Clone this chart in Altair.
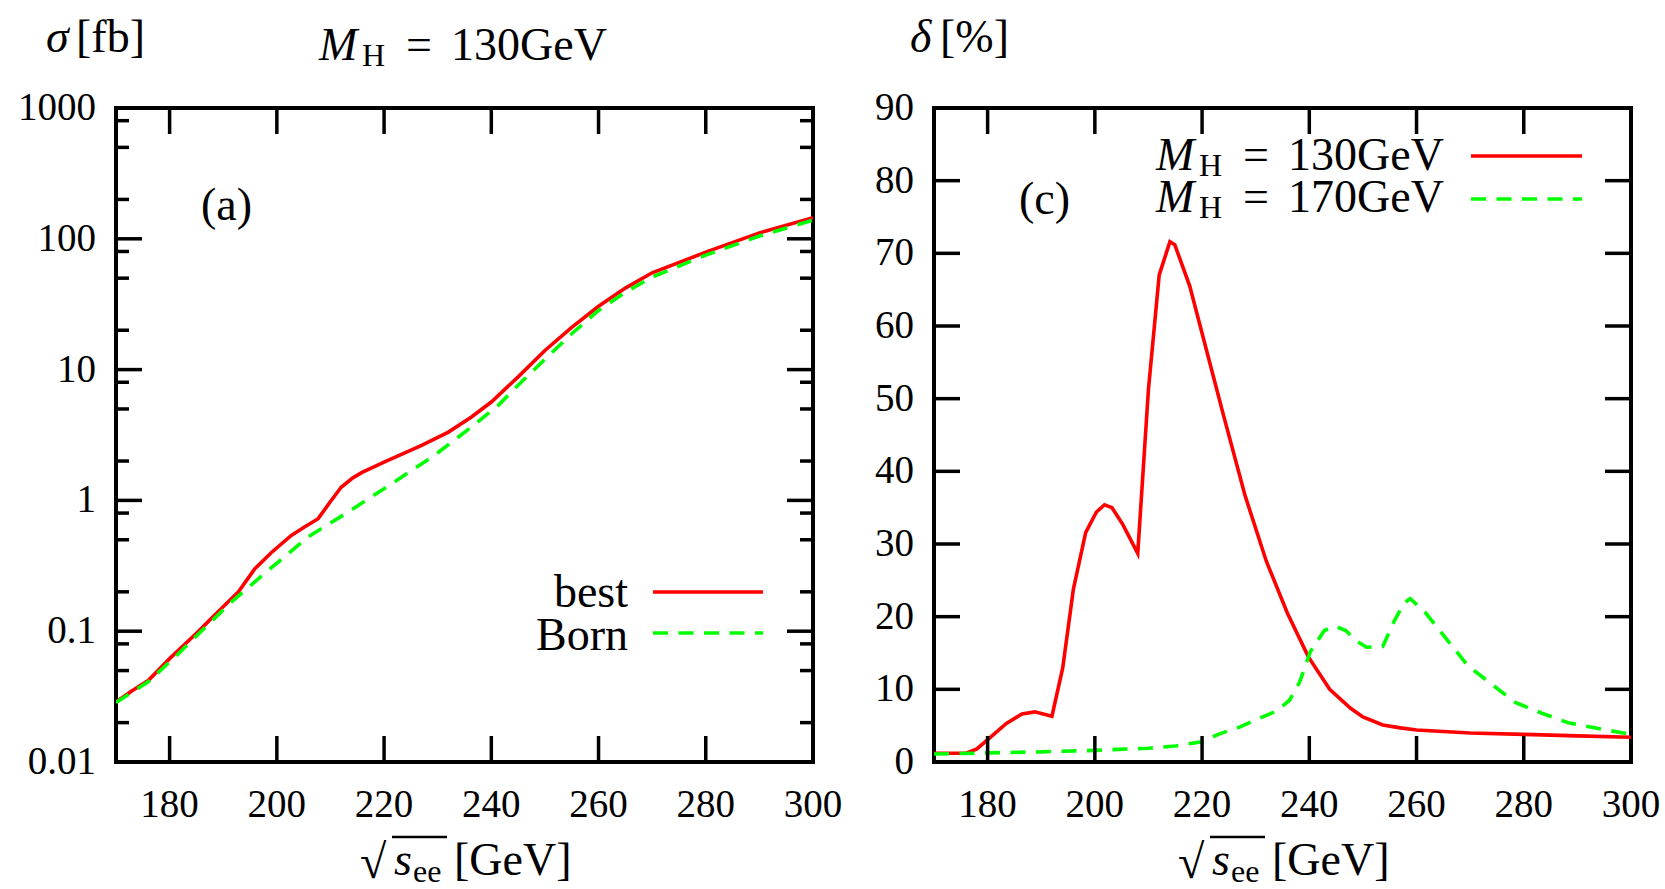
import altair as alt
import pandas as pd

# ---------------- data ----------------
# panel (a): cross section sigma [fb], M_H = 130 GeV
best_x = [170, 173, 176, 180, 185.3, 188, 191.5, 192.8, 195.9, 199, 202.7, 205, 207.7, 210, 212, 214,
          215.8, 220.1, 227, 232, 236.3, 240, 245, 250, 255, 260, 265, 270, 280, 290, 300]
best_y = [0.0288, 0.035, 0.042, 0.0617, 0.099, 0.128, 0.177, 0.199, 0.30, 0.40, 0.54, 0.62, 0.725, 0.98, 1.26, 1.47,
          1.63, 1.97, 2.63, 3.33, 4.34, 5.65, 8.8, 14, 21, 30.5, 42, 55, 79, 111, 145]
born_x = [170, 176, 181.6, 185, 191.5, 198.4, 205.8, 213.3, 221.4, 229.4, 236.3, 241.3, 245, 250, 255,
          260, 265, 270, 280, 290, 300]
born_y = [0.0285, 0.041, 0.067, 0.092, 0.167, 0.292, 0.525, 0.815, 1.34, 2.21, 3.64, 5.33, 7.6, 12, 18.8,
          28.3, 39, 51, 75, 105, 139]

# panel (c): relative correction delta [%]
d130_x = [170, 176, 178, 180.5, 183.5, 186.4, 188.8, 192, 194, 196, 198.3, 200.3, 201.8, 203.2, 205.2, 208,
          210, 212, 214, 214.9, 217.7, 220, 224, 228, 232, 235.9, 239.8, 243.8, 247.7, 250, 253.7, 257,
          260, 270, 280, 290, 300]
d130_y = [1.2, 1.2, 1.8, 3.4, 5.3, 6.6, 6.9, 6.3, 12.9, 23.8, 31.6, 34.4, 35.4, 35.0, 32.7, 28.7,
          51.3, 67, 71.6, 71.2, 65.5, 59, 47.7, 36.7, 27.6, 20.5, 14.5, 10, 7.4, 6.2, 5.1, 4.7,
          4.4, 4.0, 3.8, 3.6, 3.4]
d170_x = [170, 180, 190, 200, 210, 215, 220, 223, 227, 230, 233.9, 236.3, 238.2, 240.2, 242.8, 244.8,
          246.8, 248.7, 250.7, 253.7, 255.7, 257.6, 258.8, 261.6, 265.5, 269.5, 273.5, 278.4, 283.4,
          288.3, 293.2, 300]
d170_y = [1.1, 1.25, 1.4, 1.6, 1.9, 2.2, 2.8, 3.8, 4.8, 5.8, 7.0, 8.5, 11, 15.2, 18.1, 18.7,
          18.1, 16.7, 15.8, 15.9, 19.2, 21.8, 22.5, 20.6, 17, 13.3, 11, 8.2, 6.7,
          5.4, 4.7, 3.8]

# ticks and tick labels
x_label_values = [180, 200, 220, 240, 260, 280, 300]
x_label_texts = ["180", "200", "220", "240", "260", "280", "300"]
x_major_ticks = [180, 200, 220, 240, 260, 280]
sigma_label_values = [0.01, 0.1, 1, 10, 100, 1000]
sigma_label_texts = ["0.01", "0.1", "1", "10", "100", "1000"]
sigma_major_ticks = [0.1, 1, 10, 100]
sigma_minor_ticks = [0.02, 0.05, 0.08, 0.2, 0.5, 0.8, 2, 5, 8, 20, 50, 80, 200, 500, 800]
delta_label_values = [0, 10, 20, 30, 40, 50, 60, 70, 80, 90]
delta_label_texts = ["0", "10", "20", "30", "40", "50", "60", "70", "80", "90"]
delta_major_ticks = [10, 20, 30, 40, 50, 60, 70, 80]

# ---------------- style ----------------
W, H = 697, 654
FONT = "Liberation Serif"
RED = "#ff0000"
GREEN = "#00ff00"
DASH = [15, 10.5]
LW = 3.6
TW = 3.5
MAJ, MIN = 26, 13
TXT = 46
TICKFS = 39

XS = alt.Scale(domain=[170, 300], nice=False, zero=False)
SIG = alt.Scale(type="log", domain=[0.01, 1000], nice=False)
DEL = alt.Scale(domain=[0, 90], nice=False, zero=False)


def line(xv, yv, yscale, color, dash=None):
    df = pd.DataFrame({"x": xv, "y": yv})
    kw = dict(color=color, strokeWidth=LW, clip=True)
    if dash:
        kw["strokeDash"] = dash
    return alt.Chart(df).mark_line(**kw).encode(
        x=alt.X("x:Q", scale=XS, axis=None),
        y=alt.Y("y:Q", scale=yscale, axis=None),
    )


def x_ticks(vals, length):
    df = pd.DataFrame({"x": vals})
    base = alt.Chart(df).mark_rule(color="black", strokeWidth=TW)
    xe = alt.X("x:Q", scale=XS, axis=None)
    return [base.encode(x=xe, y=alt.value(H), y2=alt.value(H - length)),
            base.encode(x=xe, y=alt.value(0), y2=alt.value(length))]


def y_ticks(vals, yscale, length):
    df = pd.DataFrame({"y": vals})
    base = alt.Chart(df).mark_rule(color="black", strokeWidth=TW)
    ye = alt.Y("y:Q", scale=yscale, axis=None)
    return [base.encode(y=ye, x=alt.value(0), x2=alt.value(length)),
            base.encode(y=ye, x=alt.value(W - length), x2=alt.value(W))]


def x_labels():
    df = pd.DataFrame({"x": x_label_values, "t": x_label_texts})
    return alt.Chart(df).mark_text(font=FONT, fontSize=TICKFS, align="center", baseline="alphabetic",
                                   color="black").encode(
        x=alt.X("x:Q", scale=XS, axis=None), y=alt.value(H + 55), text="t:N")


def y_labels(vals, texts, yscale):
    df = pd.DataFrame({"y": vals, "t": texts})
    return alt.Chart(df).mark_text(font=FONT, fontSize=TICKFS, align="right", baseline="middle",
                                   color="black").encode(
        y=alt.Y("y:Q", scale=yscale, axis=None), x=alt.value(-20), text="t:N")


def txt(s, x, y, size=TXT, style="normal", align="left"):
    return alt.Chart().mark_text(text=s, font=FONT, fontSize=size, fontStyle=style, align=align,
                                 baseline="alphabetic", color="black").encode(
        x=alt.value(x), y=alt.value(y))


def seg(x1, x2, y, color, dash=None, width=LW):
    kw = dict(color=color, strokeWidth=width)
    if dash:
        kw["strokeDash"] = dash
    return alt.Chart().mark_rule(**kw).encode(x=alt.value(x1), x2=alt.value(x2), y=alt.value(y))


def mh_label(x0, base, mass):
    # M_H = xxxGeV
    return [txt("M", x0, base, style="italic"),
            txt("H", x0 + 43, base + 6, size=32),
            txt("=", x0 + 100, base, align="center"),
            txt(f"{mass}GeV", x0 + 132, base)]


def sqrt_title():
    return [txt("√", 244, 770, size=48),
            seg(276, 331, 729, "black", width=2.4),
            txt("s", 278, 767, style="italic"),
            txt("ee", 297, 774, size=32),
            txt("[GeV]", 338, 767)]


# ---------------- panel (a) ----------------
left_layers = [
    line(best_x, best_y, SIG, RED),
    line(born_x, born_y, SIG, GREEN, dash=DASH),
]
left_layers += x_ticks(x_major_ticks, MAJ)
left_layers += y_ticks(sigma_major_ticks, SIG, MAJ)
left_layers += y_ticks(sigma_minor_ticks, SIG, MIN)
left_layers += [x_labels(), y_labels(sigma_label_values, sigma_label_texts, SIG)]
left_layers += [
    txt("σ", -70, -56, style="italic"),
    txt("[fb]", -40, -56),
    txt("(a)", 85, 112),
    txt("best", 512, 499, align="right"),
    seg(537, 647, 484, RED),
    txt("Born", 512, 542, align="right"),
    seg(537, 647, 525, GREEN, dash=DASH),
]
left_layers += mh_label(203, -48, 130)
left_layers += sqrt_title()
# invisible anchor that pins the page origin
left_layers += [alt.Chart().mark_point(filled=True, size=1, color="white", opacity=1).encode(
    x=alt.value(-113), y=alt.value(-105.5))]
left = alt.layer(*left_layers).properties(width=W, height=H)

# ---------------- panel (c) ----------------
right_layers = [
    line(d130_x, d130_y, DEL, RED),
    line(d170_x, d170_y, DEL, GREEN, dash=DASH),
]
right_layers += x_ticks(x_major_ticks, MAJ)
right_layers += y_ticks(delta_major_ticks, DEL, MAJ)
right_layers += [x_labels(), y_labels(delta_label_values, delta_label_texts, DEL)]
right_layers += [
    txt("δ", -24, -56, style="italic"),
    txt("[%]", 6, -56),
    txt("(c)", 85, 106),
    seg(537, 648, 48, RED),
    seg(537, 648, 91, GREEN, dash=DASH),
]
right_layers += mh_label(222, 62, 130)
right_layers += mh_label(222, 104, 170)
right_layers += sqrt_title()
right = alt.layer(*right_layers).properties(width=W, height=H)

chart = alt.hconcat(left, right, spacing=121, bounds="flush").properties(
    padding=0, background="white"
).configure_view(stroke="black", strokeWidth=4)

chart.save("out.html", embed_options={"renderer": "svg", "actions": False})
